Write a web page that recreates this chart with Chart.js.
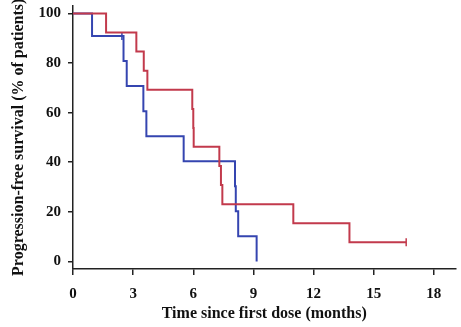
<!DOCTYPE html>
<html>
<head>
<meta charset="utf-8">
<script src="https://cdn.jsdelivr.net/npm/chart.js@4"></script>
<style>
  html, body { margin: 0; padding: 0; background: #fff; }
  #wrap { width: 461px; height: 327px; }
</style>
</head>
<body>
<div id="wrap"><canvas id="myChart"></canvas></div>
<script>
// blue arm (Kaplan-Meier steps)
var blueTimes  = [0, 0.95, 2.52, 2.68, 3.51, 3.66, 5.52, 8.08, 8.12, 8.24, 9.16];
var blueValues = [100, 90.9, 80.8, 70.7, 60.6, 50.5, 40.4, 30.3, 20.2, 10.1, 0];
var blueCensorTimes  = [2.44];
var blueCensorValues = [90.9];

// red arm
var redTimes  = [0, 1.65, 3.16, 3.53, 3.71, 5.95, 6.0, 6.02, 7.30, 7.38, 7.45, 10.99, 13.79, 16.62];
var redValues = [100, 92.3, 84.6, 76.9, 69.2, 61.5, 53.8, 46.2, 38.5, 30.8, 23.1, 15.4, 7.7, 7.7];
var redCensorTimes  = [16.62];
var redCensorValues = [7.7];

var xTicks = [0, 3, 6, 9, 12, 15, 18];
var yTicks = [0, 20, 40, 60, 80, 100];

var RED = '#c23a4c';
var BLUE = '#3545b0';
var AXIS = '#222';

function pts(xs, ys) {
  return xs.map(function (x, i) { return { x: x, y: ys[i] }; });
}

var tickFont = { family: "'Liberation Serif', 'DejaVu Serif', serif", size: 15, weight: 'bold' };
var titleFont = { family: "'Liberation Serif', 'DejaVu Serif', serif", size: 16, weight: 'bold' };

var ctx = document.getElementById('myChart').getContext('2d');
var myChart = new Chart(ctx, {
  type: 'line',
  data: {
    datasets: [
      {
        data: pts(redTimes, redValues),
        borderColor: RED, borderWidth: 2, stepped: 'before',
        pointRadius: 0, fill: false
      },
      {
        data: pts(blueTimes, blueValues),
        borderColor: BLUE, borderWidth: 2, stepped: 'before',
        pointRadius: 0, fill: false
      },
      {
        data: pts(redCensorTimes, redCensorValues),
        showLine: false, pointStyle: 'line', rotation: 90, pointRadius: 4,
        borderColor: RED, pointBorderWidth: 1.5
      },
      {
        data: pts(blueCensorTimes, blueCensorValues),
        showLine: false, pointStyle: 'line', rotation: 90, pointRadius: 4,
        borderColor: BLUE, pointBorderWidth: 1.5
      }
    ]
  },
  options: {
    responsive: true,
    maintainAspectRatio: false,
    animation: false,
    layout: { padding: { top: 2, right: 0, left: 0, bottom: 0 } },
    plugins: { legend: { display: false }, tooltip: { enabled: false } },
    scales: {
      x: {
        type: 'linear', min: 0, max: 19.08,
        afterBuildTicks: function (s) { s.ticks = xTicks.map(function (v) { return { value: v }; }); },
        afterFit: function (s) { s.height = 58; s.paddingLeft = 0; s.paddingRight = 0; },
        ticks: { font: tickFont, color: '#111', padding: 10, maxRotation: 0, autoSkip: false },
        grid: { drawOnChartArea: false, drawTicks: true, tickLength: 6, color: AXIS, lineWidth: 1.5 },
        border: { display: true, color: AXIS, width: 1.5 },
        title: { display: true, text: 'Time since first dose (months)', font: titleFont, color: '#111', padding: { top: 0, bottom: 4 } }
      },
      y: {
        min: -3.06, max: 103.2,
        afterBuildTicks: function (s) { s.ticks = yTicks.map(function (v) { return { value: v }; }); },
        afterFit: function (s) { s.width = 73; s.paddingTop = 0; s.paddingBottom = 0; },
        ticks: { font: tickFont, color: '#111', padding: 7 },
        grid: { drawOnChartArea: false, drawTicks: true, tickLength: 5, color: AXIS, lineWidth: 1.5 },
        border: { display: true, color: AXIS, width: 1.5 },
        title: { display: true, text: 'Progression-free survival (% of patients)', font: titleFont, color: '#111', padding: { top: 9, bottom: 0 } }
      }
    }
  }
});
</script>
</body>
</html>
